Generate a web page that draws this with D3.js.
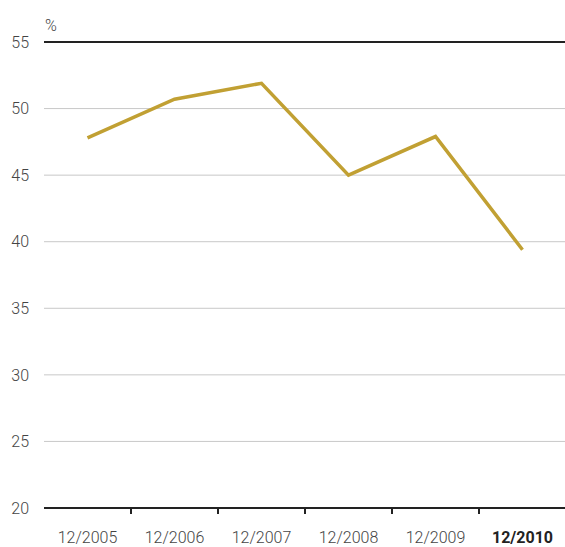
<!DOCTYPE html>
<html><head><meta charset="utf-8">
<script src="https://cdn.jsdelivr.net/npm/d3@7"></script>
<style>body{margin:0;background:#fff}svg{display:block}text{font-family:Roboto,sans-serif}</style>
</head><body>
<script>
const categories = ["12/2005","12/2006","12/2007","12/2008","12/2009","12/2010"];
const values = [47.8, 50.7, 51.9, 45.0, 47.9, 39.4];
const yTicks = [20,25,30,35,40,45,50,55];
const unit = "%";

const W=565,H=547, mLeft=44, mRight=566, mTop=42, mBottom=508;
const svg=d3.select("body").append("svg").attr("width",W).attr("height",H);
const x=d3.scaleBand().domain(categories).range([mLeft,mRight]);
const y=d3.scaleLinear().domain([20,55]).range([mBottom,mTop]);

svg.append("g").selectAll("line").data(yTicks).join("line")
  .attr("x1",mLeft).attr("x2",W).attr("y1",d=>y(d)).attr("y2",d=>y(d))
  .attr("stroke",d=>(d===55||d===20)?"#222":"#c8c8c8")
  .attr("stroke-width",d=>(d===55||d===20)?2:1);

svg.append("g").selectAll("text").data(yTicks).join("text")
  .attr("x",29).attr("y",d=>y(d)).attr("dy","0.36em").attr("text-anchor","end")
  .attr("font-size",16).attr("font-weight",300).attr("fill","#444").text(d=>d);

svg.append("text").attr("x",45).attr("y",31).attr("font-size",16).attr("font-weight",300).attr("fill","#444").text(unit);

svg.append("g").selectAll("line").data(categories.slice(1)).join("line")
  .attr("x1",d=>x(d)).attr("x2",d=>x(d)).attr("y1",mBottom).attr("y2",mBottom+6)
  .attr("stroke","#222").attr("stroke-width",2);

svg.append("g").selectAll("text").data(categories).join("text")
  .attr("x",d=>x(d)+x.bandwidth()/2).attr("y",543)
  .attr("text-anchor","middle").attr("font-size",16)
  .attr("font-weight",(d,i)=>i===categories.length-1?700:300)
  .attr("fill",(d,i)=>i===categories.length-1?"#222":"#444").text(d=>d);

const line=d3.line().x((d,i)=>x(categories[i])+x.bandwidth()/2).y(d=>y(d));
svg.append("path").datum(values).attr("d",line).attr("fill","none")
  .attr("stroke","#C1A033").attr("stroke-width",3.5).attr("stroke-linejoin","miter");
</script>
</body></html>
